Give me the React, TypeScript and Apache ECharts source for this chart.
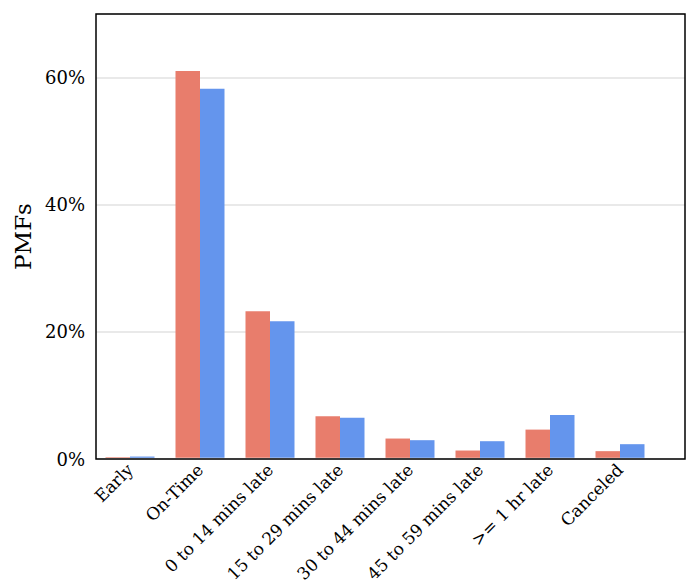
import React, { useEffect, useRef } from "react";
import * as echarts from "echarts";

const categories = [
  "Early",
  "On-Time",
  "0 to 14 mins late",
  "15 to 29 mins late",
  "30 to 44 mins late",
  "45 to 59 mins late",
  ">= 1 hr late",
  "Canceled",
];
const seriesRed = [0.001, 0.61, 0.231, 0.0656, 0.0304, 0.0115, 0.0445, 0.0105];
const seriesBlue = [0.002, 0.582, 0.2155, 0.063, 0.0278, 0.0262, 0.0676, 0.0215];
const yTicks = [0, 0.2, 0.4, 0.6];

const FONT = "DejaVu Serif";

export default function App() {
  const ref = useRef<HTMLDivElement>(null);
  useEffect(() => {
    if (!ref.current) return;
    const chart = echarts.init(ref.current, undefined, { renderer: "svg" });
    chart.setOption({
      animation: false,
      textStyle: { fontFamily: FONT, color: "#000" },
      grid: [
        { left: 96, top: 14, width: 589, height: 445 },
        { left: 95, top: 14, width: 560, height: 445 },
      ],
      graphic: [
        {
          type: "rect",
          z: 100,
          shape: { x: 96, y: 14, width: 589, height: 445 },
          style: { fill: "none", stroke: "#000", lineWidth: 1.5 },
        },
      ],
      xAxis: [
        { gridIndex: 0, type: "value", min: 0, max: 1, show: false },
        {
          gridIndex: 1,
          type: "category",
          data: categories,
          axisLine: { show: false },
          axisTick: { show: false },
          axisLabel: {
            rotate: 45,
            interval: 0,
            margin: 9,
            fontFamily: FONT,
            fontSize: 17,
            color: "#000",
          },
        },
      ],
      yAxis: [
        {
          gridIndex: 0,
          type: "value",
          min: 0,
          max: 0.7,
          interval: 0.2,
          name: "PMFs",
          nameLocation: "middle",
          nameGap: 60,
          nameTextStyle: { fontFamily: FONT, fontSize: 23, color: "#000" },
          axisLine: { show: false },
          axisTick: { show: false },
          splitLine: { show: true, lineStyle: { color: "#e2e2e2", width: 1.5 } },
          axisLabel: {
            margin: 11,
            fontFamily: FONT,
            fontSize: 18,
            color: "#000",
            formatter: (v: number) =>
              yTicks.some((t) => Math.abs(t - v) < 1e-9) ? Math.round(v * 100) + "%" : "",
          },
        },
        { gridIndex: 1, type: "value", min: 0, max: 0.7, show: false },
      ],
      series: [
        {
          type: "bar",
          xAxisIndex: 1,
          yAxisIndex: 1,
          data: seriesRed,
          itemStyle: { color: "#E87D6C" },
          barGap: "0%",
          barCategoryGap: "30%",
        },
        {
          type: "bar",
          xAxisIndex: 1,
          yAxisIndex: 1,
          data: seriesBlue,
          itemStyle: { color: "#6495ED" },
          barGap: "0%",
          barCategoryGap: "30%",
        },
      ],
    });
    return () => chart.dispose();
  }, []);
  return (
    <div
      ref={ref}
      style={{ position: "absolute", left: 0, top: 0, width: 696, height: 585 }}
    />
  );
}
